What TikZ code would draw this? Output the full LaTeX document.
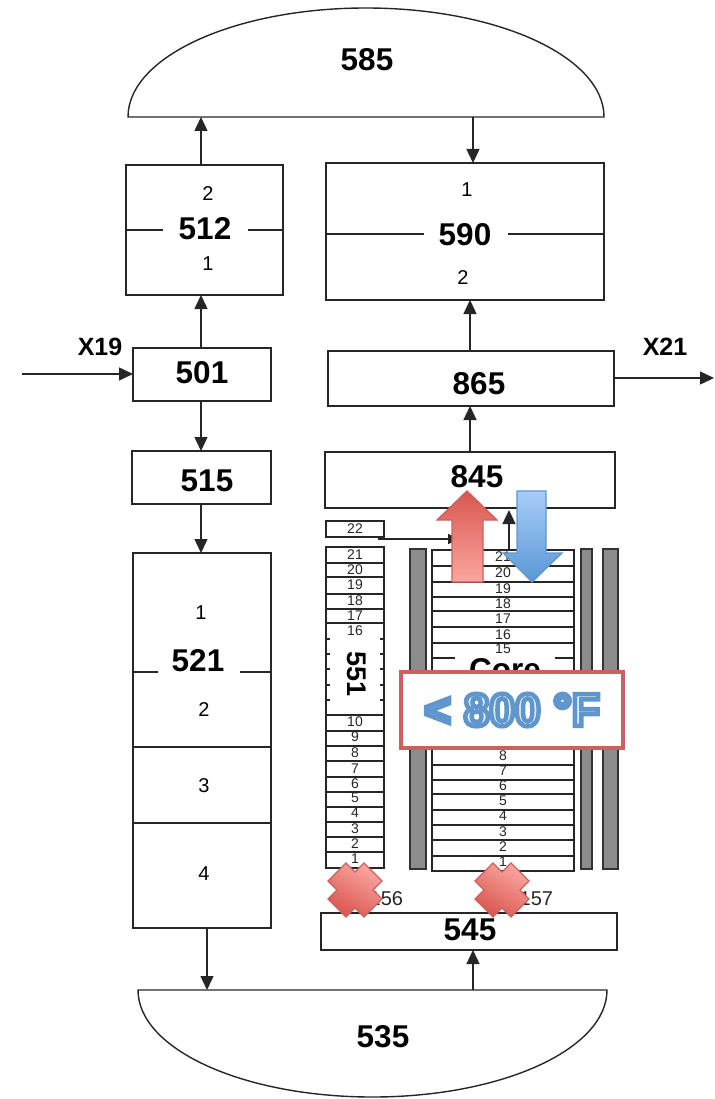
\documentclass[tikz,border=0pt]{standalone}
\usepackage{fontspec}
\setmainfont{Liberation Sans}
\usetikzlibrary{arrows.meta,calc}
\definecolor{calloutred}{HTML}{C9625F}
\definecolor{calloutblue}{HTML}{5F96CC}
\definecolor{calloutfill}{HTML}{DFE9F5}
\definecolor{reddark}{HTML}{D9574F}
\definecolor{redlight}{HTML}{FBA6A1}
\definecolor{bluedark}{HTML}{5A97D6}
\definecolor{bluelight}{HTML}{A9CCF8}
\tikzset{
  x=1pt,y=-1pt,
  every node/.style={inner sep=0pt,outer sep=0pt},
  box/.style={draw=black!85,line width=1.4pt,fill=white,anchor=north west},
  big/.style={font=\fontsize{31.5}{32}\selectfont\bfseries},
  mid/.style={font=\fontsize{31.5}{32}\selectfont\bfseries},
  small/.style={font=\fontsize{20}{20}\selectfont},
  tiny/.style={font=\fontsize{14}{14}\selectfont,text=black!85},
  lab/.style={font=\fontsize{25}{25}\selectfont\bfseries},
  conn/.style={draw=black!85,line width=1.4pt,-{Triangle[length=14pt,width=13pt]}},
  rule/.style={draw=black!85,line width=1.4pt},
  gbar/.style={draw=black!80,line width=1.4pt,fill=black!45,anchor=north west},
  redarrow/.style={draw=calloutred,line width=1.3pt,top color=reddark,bottom color=redlight},
  bluearrow/.style={draw=calloutblue,line width=1.3pt,top color=bluelight,bottom color=bluedark},
  crossmark/.style={draw=calloutred,line width=1.3pt,top color=redlight,bottom color=reddark,shading angle=-30}
}
\newcommand{\boxat}[6]{\node[box,minimum width=#4-#3,minimum height=#6-#5] (#1) at (#3,#5) {#2};}
\newcommand{\outlined}[1]{\textcolor{calloutfill}{\special{pdf:code 2 Tr 4.5 w 0.373 0.588 0.8 RG}#1\special{pdf:code 0 Tr 1 w}}}
\begin{document}
\begin{tikzpicture}
\useasboundingbox (0,0) rectangle (714,1099);
% domes
\draw[rule] (128,117) arc[start angle=180,end angle=0,x radius=238,y radius=-109] -- cycle;
\draw[rule] (138,990) arc[start angle=180,end angle=360,x radius=234.5,y radius=-107] -- cycle;
\node[minimum width=476,minimum height=109,anchor=north west] (d585) at (128,8) {};
\node[big] (t585) at (367,60) {585};
\node[minimum width=469,minimum height=107,anchor=north west] (d535) at (138,990) {};
\node[big] (t535) at (383,1037) {535};
% boxes
\boxat{b512}{}{126}{283}{165}{295}
\boxat{b590}{}{326}{604}{163}{300}
\boxat{b501}{}{133}{271}{348}{401}
\boxat{b865}{}{328}{614}{351}{406}
\boxat{b515}{}{132}{271}{451}{504}
\boxat{b845}{}{325}{615}{452}{508}
\boxat{b521}{}{133}{271}{553}{928}
\boxat{b545}{}{321}{617}{913}{950}
\boxat{b22}{}{326}{384}{521}{537}
\boxat{b551}{}{326}{384}{547}{868}
\boxat{bcore}{}{432}{574}{550}{871}
% labels in boxes
\node[mid] at (205,229) {512};
\node[small] at (208,194) {2};
\node[small] at (208,264) {1};
\node[mid] at (465,235) {590};
\node[small] at (467,190) {1};
\node[small] at (463,278) {2};
\node[mid] at (202,373) {501};
\node[mid] at (479,384) {865};
\node[mid] at (207,481) {515};
\node[mid] at (477,477) {845};
\node[mid] at (198,661) {521};
\node[small] at (201,613) {1};
\node[small] at (204,710) {2};
\node[small] at (204,786) {3};
\node[small] at (204,874) {4};
\node[mid] at (470,930) {545};
\node[lab] at (100,347) {X19};
\node[lab] at (665,347) {X21};
% dividers
\draw[rule] (126,230) -- (163,230) (248,230) -- (283,230);
\draw[rule] (326,234) -- (424,234) (508,234) -- (604,234);
\draw[rule] (133,672) -- (158,672) (240,672) -- (271,672);
\draw[rule] (133,747) -- (271,747) (133,823) -- (271,823);
% column 551
\foreach \y in {563,577,594,609,623,715,731,746,761,777,792,807,822,837,852}
  \draw[rule] (326,\y) -- (384,\y);
\foreach \y in {639,654,669,685,700}
  \draw[rule] (326,\y) -- (330,\y) (380,\y) -- (384,\y);
\foreach \t/\y in {21/555,20/570,19/585,18/601,17/616,16/631,10/722,9/737,8/753,7/769,6/784,5/798,4/813,3/829,2/844,1/859}
  \node[tiny] at (355,\y) {\t};
\node[tiny] at (355,529) {22};
\node[rotate=-90,font=\fontsize{27}{27}\selectfont\bfseries] at (357,674) {551};
% core
\foreach \y in {566,582,597,611,627,643,765,780,794,810,825,840,856}
  \draw[rule] (432,\y) -- (574,\y);
\draw[rule] (432,658) -- (455,658) (555,658) -- (574,658);
\foreach \t/\y in {21/557,20/573,19/589,18/604,17/619,16/635,15/649,8/756,7/771,6/786,5/801,4/816,3/832,2/847,1/862}
  \node[tiny] at (503,\y) {\t};
\node[mid] at (505,670) {Core};
% grey bars
\node[gbar,minimum width=16,minimum height=320] (g1) at (410,549) {};
\node[gbar,minimum width=11,minimum height=320] (g2) at (581,549) {};
\node[gbar,minimum width=15,minimum height=320] (g3) at (603,549) {};
% lower labels
\node[font=\fontsize{20}{20}\selectfont,anchor=east,text=black!85] at (403,899) {156};
\node[font=\fontsize{20}{20}\selectfont,anchor=east,text=black!85] at (553,899) {157};
% connectors
\coordinate (x19) at (22,374);
\coordinate (x21) at (714,378);
\draw[conn] ($(b512.north west)+(75,0)$) -- ($(d585.south west)+(73,0)$);
\draw[conn] ($(d585.south west)+(345,0)$) -- ($(b590.north west)+(147,0)$);
\draw[conn] ($(b501.north west)+(68,0)$) -- ($(b512.south west)+(75,0)$);
\draw[conn] ($(b501.south west)+(68,0)$) -- ($(b515.north west)+(69,0)$);
\draw[conn] ($(b515.south west)+(69,0)$) -- ($(b521.north west)+(68,0)$);
\draw[conn] ($(b521.south west)+(74,0)$) -- ($(d535.north west)+(69,0)$);
\draw[conn] ($(d535.north west)+(335,0)$) -- ($(b545.south west)+(152,0)$);
\draw[conn] ($(b865.north west)+(142,0)$) -- ($(b590.south west)+(144,0)$);
\draw[conn] ($(b845.north west)+(145,0)$) -- ($(b865.south west)+(142,0)$);
\draw[conn] (x19) -- (b501.west |- x19);
\draw[conn] (b865.east |- x21) -- (x21);
\coordinate (core22) at (460,539);
\draw[conn,-{Triangle[length=12pt,width=10pt]}] ($(b22.south west)+(53,0)$) |- (core22);
\draw[conn] ($(bcore.north west)+(77,0)$) -- (509,510);
% big arrows
\draw[redarrow] (467,491) -- (497,520) -- (483,520) -- (483,582) -- (452,582) -- (452,520) -- (437,520) -- cycle;
\draw[bluearrow] (517,491) -- (546,491) -- (546,553) -- (562,553) -- (532,582) -- (503,553) -- (517,553) -- cycle;
% crosses
\foreach \cx/\cy in {355/890,502/890}
  \draw[crossmark] (\cx,\cy) ++(-9,-27) -- ++(9,9) -- ++(9,-9) -- ++(18,18) -- ++(-9,9) -- ++(9,9) -- ++(-18,18) -- ++(-9,-9) -- ++(-9,9) -- ++(-18,-18) -- ++(9,-9) -- ++(-9,-9) -- cycle;
% callout
\node[draw=calloutred,line width=4.5pt,fill=white,minimum width=222,minimum height=76,anchor=north west,font=\fontsize{46}{46}\selectfont\bfseries] (callout) at (401,672) {\raisebox{-2pt}{\outlined{< 800 °F}}};
\end{tikzpicture}
\end{document}
